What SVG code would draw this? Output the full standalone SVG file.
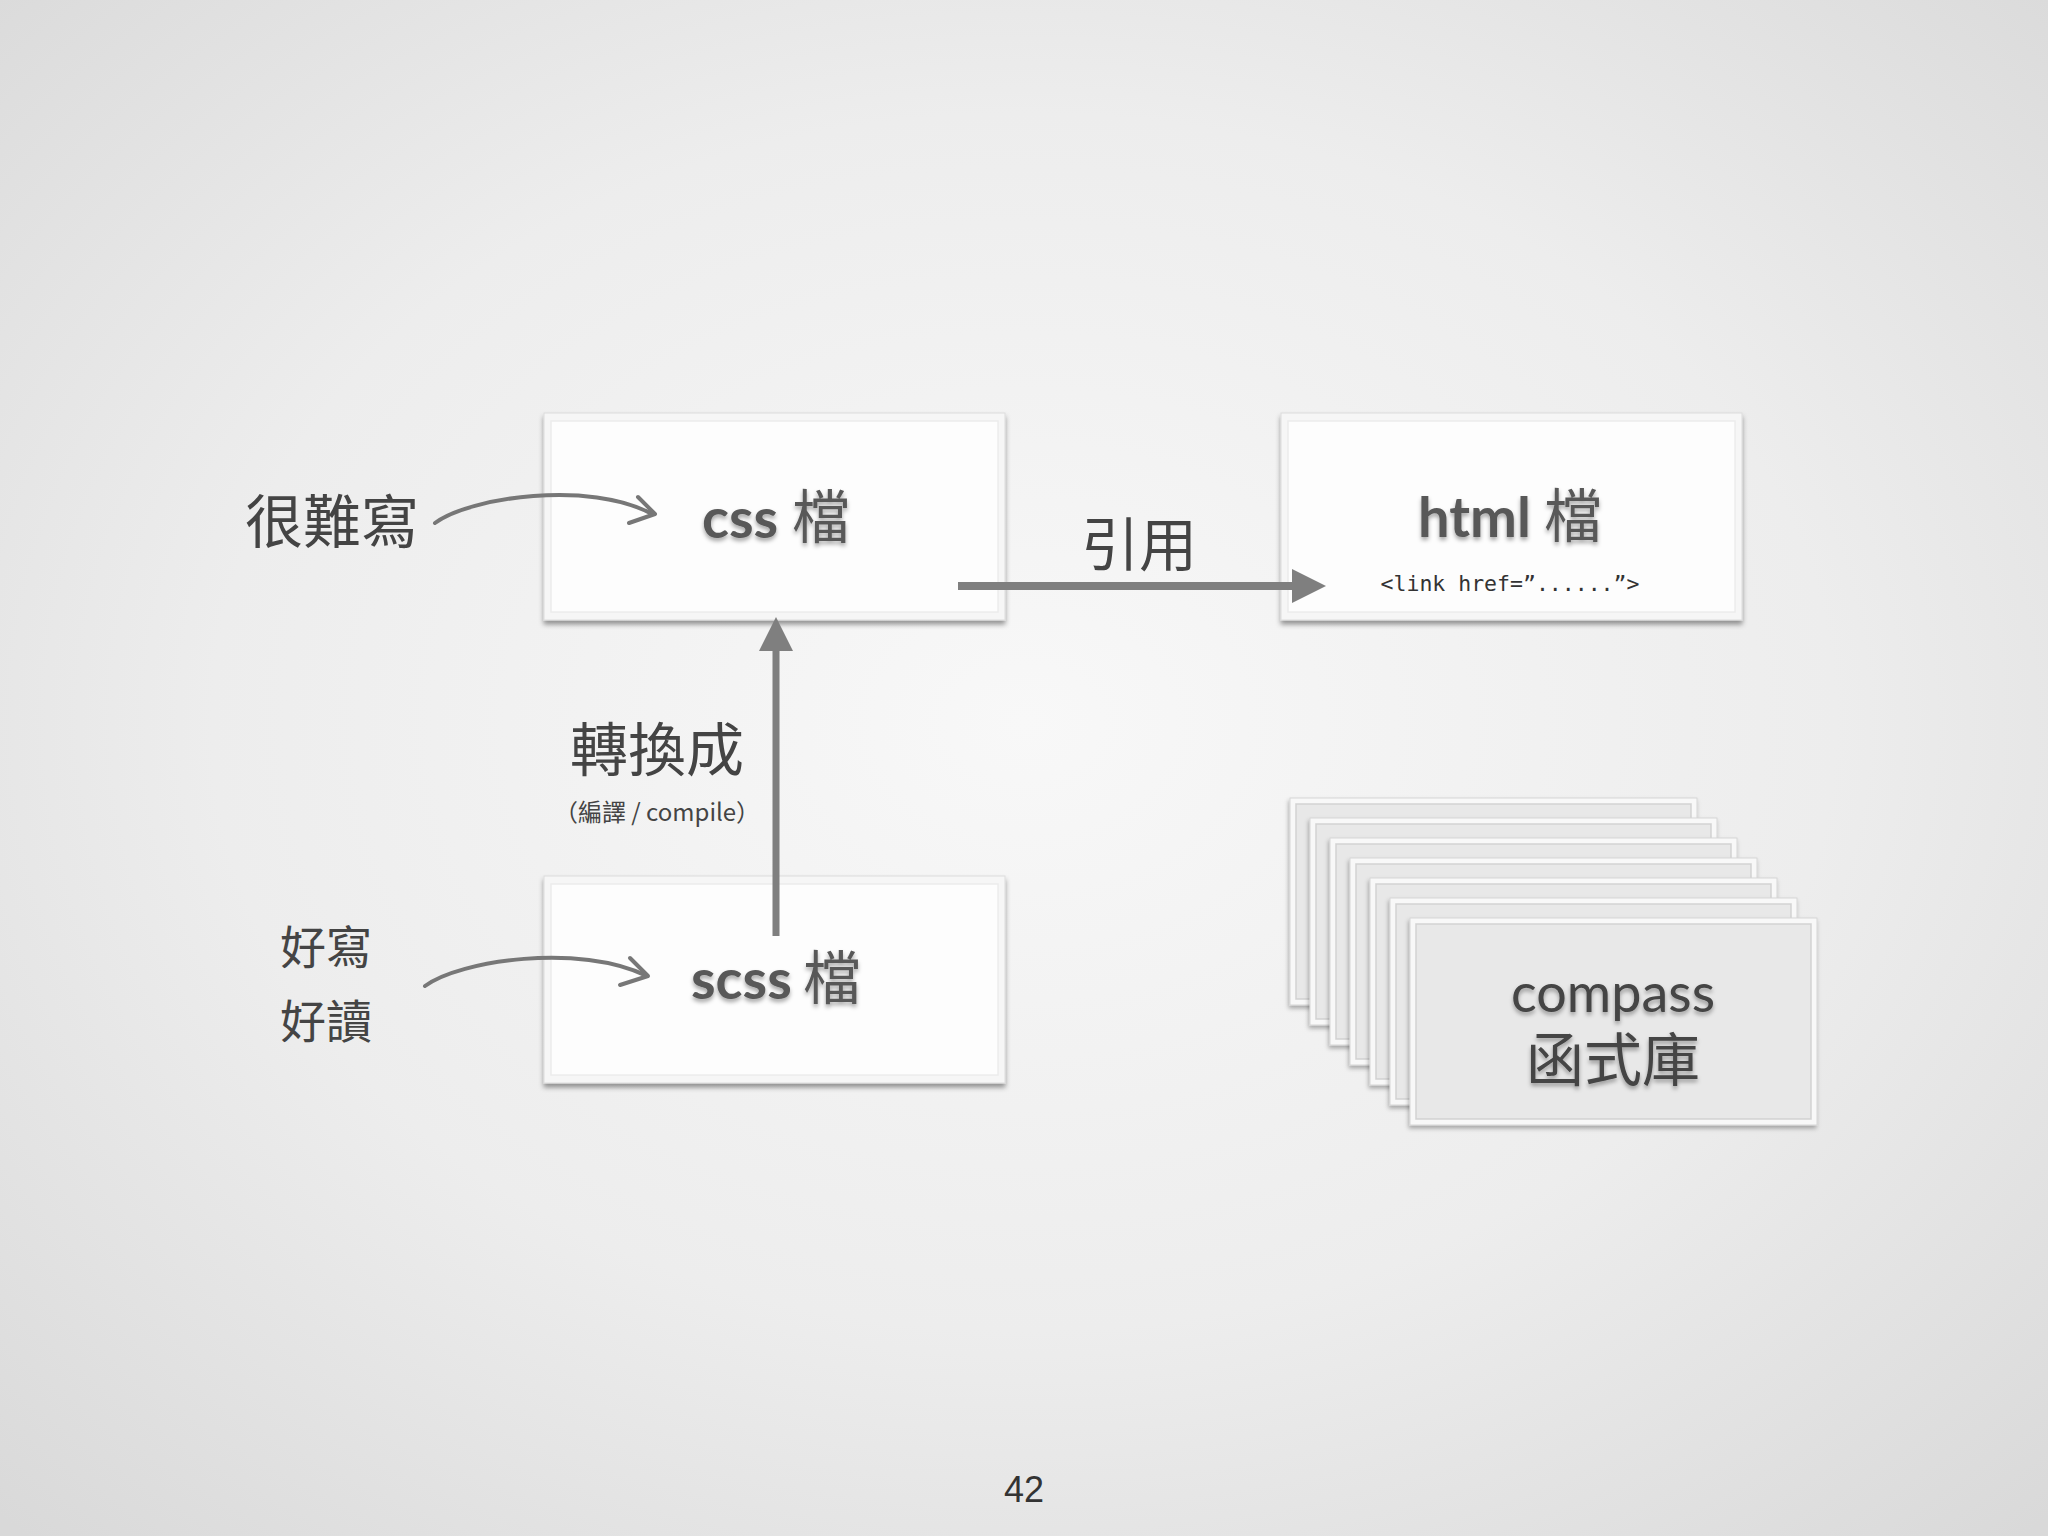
<svg xmlns="http://www.w3.org/2000/svg" width="2048" height="1536" viewBox="0 0 2048 1536">
<defs>
<radialGradient id="bg" cx="50%" cy="47%" r="72%">
<stop offset="0" stop-color="#f8f8f8"/>
<stop offset="0.55" stop-color="#ededed"/>
<stop offset="1" stop-color="#d9d9d9"/>
</radialGradient>
<filter id="boxShadow" x="-5%" y="-5%" width="110%" height="115%">
<feDropShadow dx="0" dy="4" stdDeviation="2.5" flood-color="#000" flood-opacity="0.4"/>
</filter>
<filter id="cardShadow" x="-5%" y="-5%" width="110%" height="115%">
<feDropShadow dx="-1" dy="3" stdDeviation="2" flood-color="#000" flood-opacity="0.3"/>
</filter>
<filter id="txtShadow" x="-10%" y="-20%" width="120%" height="150%">
<feDropShadow dx="0" dy="3" stdDeviation="2" flood-color="#000" flood-opacity="0.35"/>
</filter>
</defs>
<style>
.frame{fill:#f6f6f6;stroke:#dcdcdc;stroke-width:1}
.inner{fill:#fdfdfd;stroke:#ececec;stroke-width:1.5}
.cframe{fill:#f8f8f8;stroke:#d6d6d6;stroke-width:1}
.cinner{fill:#e8e8e8;stroke:#d2d2d2;stroke-width:1.5}
.lat{font-family:Lato,"Open Sans","Liberation Sans",sans-serif;font-weight:700}
.cjk{font-family:"Noto Sans CJK TC","Noto Sans CJK SC",sans-serif;font-weight:400}
.title{fill:#585858;font-size:56px}
.label{font-family:"Noto Sans CJK TC","Noto Sans CJK SC",sans-serif;fill:#444}
.conn{stroke:#7f7f7f;fill:none}
.curve{stroke:#777;fill:none;stroke-width:4;stroke-linecap:round;stroke-linejoin:round}
</style>
<rect x="0" y="0" width="2048" height="1536" fill="url(#bg)"/>

<g id="css-node">
<rect class="frame" x="544" y="413" width="461" height="207" filter="url(#boxShadow)"/>
<rect class="inner" x="551" y="421" width="447" height="191"/>
<text filter="url(#txtShadow)" class="title" y="538"><tspan class="lat" x="702">css</tspan><tspan class="cjk" x="792" font-size="58">檔</tspan></text>
</g>

<g id="html-node">
<rect class="frame" x="1281" y="413" width="461" height="207" filter="url(#boxShadow)"/>
<rect class="inner" x="1288" y="421" width="447" height="191"/>
<text filter="url(#txtShadow)" class="title" y="537"><tspan class="lat" x="1418">html</tspan><tspan class="cjk" x="1544" font-size="58">檔</tspan></text>
<text x="1510" y="591" text-anchor="middle" font-family="'DejaVu Sans Mono','Liberation Mono',monospace" font-size="21.5" fill="#333">&lt;link href=”......”&gt;</text>
</g>

<g id="scss-node">
<rect class="frame" x="544" y="876" width="461" height="207" filter="url(#boxShadow)"/>
<rect class="inner" x="551" y="884" width="447" height="191"/>
<text filter="url(#txtShadow)" class="title" y="999"><tspan class="lat" x="691">scss</tspan><tspan class="cjk" x="803" font-size="58">檔</tspan></text>
</g>

<g id="compass-node">
<g filter="url(#cardShadow)">
<rect class="cframe" x="1290" y="798" width="407" height="207"/>
<rect class="cinner" x="1296" y="804" width="395" height="195"/>
</g>
<g filter="url(#cardShadow)">
<rect class="cframe" x="1310" y="818" width="407" height="207"/>
<rect class="cinner" x="1316" y="824" width="395" height="195"/>
</g>
<g filter="url(#cardShadow)">
<rect class="cframe" x="1330" y="838" width="407" height="207"/>
<rect class="cinner" x="1336" y="844" width="395" height="195"/>
</g>
<g filter="url(#cardShadow)">
<rect class="cframe" x="1350" y="858" width="407" height="207"/>
<rect class="cinner" x="1356" y="864" width="395" height="195"/>
</g>
<g filter="url(#cardShadow)">
<rect class="cframe" x="1370" y="878" width="407" height="207"/>
<rect class="cinner" x="1376" y="884" width="395" height="195"/>
</g>
<g filter="url(#cardShadow)">
<rect class="cframe" x="1390" y="898" width="407" height="207"/>
<rect class="cinner" x="1396" y="904" width="395" height="195"/>
</g>
<g filter="url(#cardShadow)">
<rect class="cframe" x="1410" y="918" width="407" height="207"/>
<rect class="cinner" x="1416" y="924" width="395" height="195"/>
</g>
<text filter="url(#txtShadow)" fill="#444" text-anchor="middle"><tspan x="1613" y="1012" font-family="Lato,'Open Sans','Liberation Sans',sans-serif" font-size="54" textLength="204" lengthAdjust="spacingAndGlyphs">compass</tspan><tspan x="1613" y="1081" class="cjk" font-size="58">函式庫</tspan></text>
</g>

<g id="labels">
<text class="label" x="245" y="543" font-size="58">很難寫</text>
<text class="label" x="1081" y="566" font-size="58">引用</text>
<text class="label" x="657" y="771" font-size="58" text-anchor="middle">轉換成</text>
<text class="label" x="657" y="821" font-size="24" text-anchor="middle">（編譯 / compile）</text>
<text class="label" x="326" y="964" font-size="46" text-anchor="middle">好寫</text>
<text class="label" x="326" y="1038" font-size="46" text-anchor="middle">好讀</text>
</g>

<g id="connectors">
<line class="conn" x1="958" y1="586" x2="1296" y2="586" stroke-width="8"/>
<polygon points="1326,586 1292,569 1292,603" fill="#7f7f7f"/>
<line class="conn" x1="776" y1="936" x2="776" y2="646" stroke-width="7"/>
<polygon points="776,617 759,651 793,651" fill="#7f7f7f"/>
<path class="curve" d="M435,523 C470,497 590,480 652,514"/>
<path class="curve" d="M638,497 L655,514 L629,523"/>
<path class="curve" d="M425,986 C460,960 580,943 647,976"/>
<path class="curve" d="M630,958 L648,976 L620,985"/>
</g>

<text x="1024" y="1502" text-anchor="middle" font-family="'Liberation Sans',Arial,sans-serif" font-size="36" fill="#333">42</text>
</svg>
